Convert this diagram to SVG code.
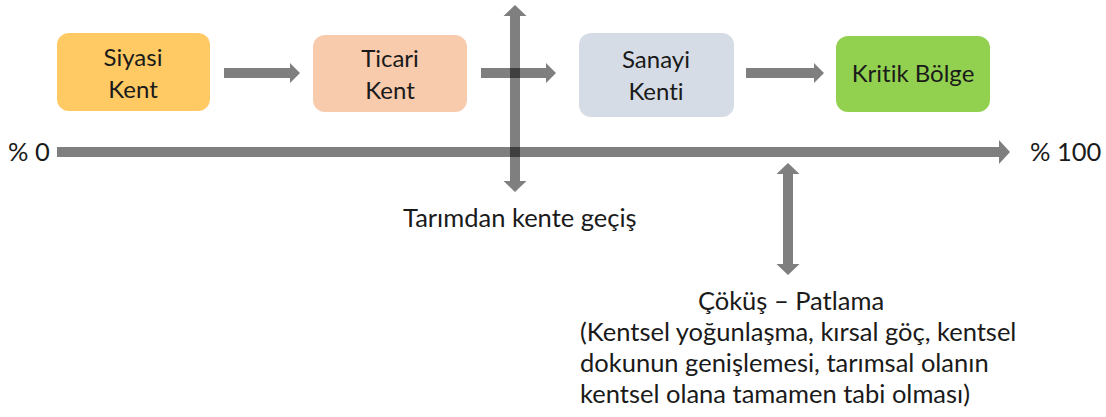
<svg xmlns="http://www.w3.org/2000/svg" width="1106" height="417" viewBox="0 0 1106 417">
<style>
  text { font-family: Lato, "Liberation Sans", sans-serif; fill: #1a1a1a; font-size: 25.5px; font-variant-ligatures: none; }
  .b { font-size: 24px; }
  .c { text-anchor: middle; }
  .arr { fill: #7f7f7f; }
  .varr { fill: #000; fill-opacity: 0.5; }
</style>
<rect width="1106" height="417" fill="#fff"/>
<g id="axis">
  <polygon class="arr" points="57,147 999,147 999,140 1010,152 999,164 999,157 57,157"/>
  <text x="8" y="161">% 0</text>
  <text x="1030" y="161">% 100</text>
</g>
<g id="siyasi">
  <rect x="57" y="33" width="153" height="78" rx="12" fill="#ffca64"/>
  <text class="c b" x="133" y="66">Siyasi</text>
  <text class="c b" x="133" y="98">Kent</text>
</g>
<g id="ticari">
  <rect x="313" y="35" width="154" height="77" rx="12" fill="#f8cbad"/>
  <text class="c b" x="390" y="67">Ticari</text>
  <text class="c b" x="390" y="99">Kent</text>
</g>
<g id="sanayi">
  <rect x="579" y="33" width="155" height="84" rx="12" fill="#d6dce5"/>
  <text class="c b" x="656" y="68">Sanayi</text>
  <text class="c b" x="656" y="100">Kenti</text>
</g>
<g id="kritik">
  <rect x="836" y="36" width="154" height="76" rx="12" fill="#92d050"/>
  <text class="c b" x="913" y="82">Kritik Bölge</text>
</g>
<g id="connectors">
  <polygon class="arr" points="224,68 290,68 290,63 300,73 290,83 290,78 224,78"/>
  <polygon class="arr" points="481,68 546,68 546,63 556,73 546,83 546,78 481,78"/>
  <polygon class="arr" points="746,68 814,68 814,63 824,73 814,83 814,78 746,78"/>
  <polygon class="varr" points="515,5 526.5,16 520,16 520,181 526.5,181 515,192 503.5,181 510,181 510,16 503.5,16"/>
  <polygon class="arr" points="788,163 799.5,174 793,174 793,264 799.5,264 788,275 776.5,264 783,264 783,174 776.5,174"/>
</g>
<g id="tarim">
  <text x="403" y="227">Tarımdan kente geçiş</text>
</g>
<g id="cokus">
  <text class="c" x="791" y="310">Çöküş – Patlama</text>
  <text x="580" y="341">(Kentsel yoğunlaşma, kırsal göç, kentsel</text>
  <text x="580" y="372">dokunun genişlemesi, tarımsal olanın</text>
  <text x="580" y="403">kentsel olana tamamen tabi olması)</text>
</g>
</svg>
